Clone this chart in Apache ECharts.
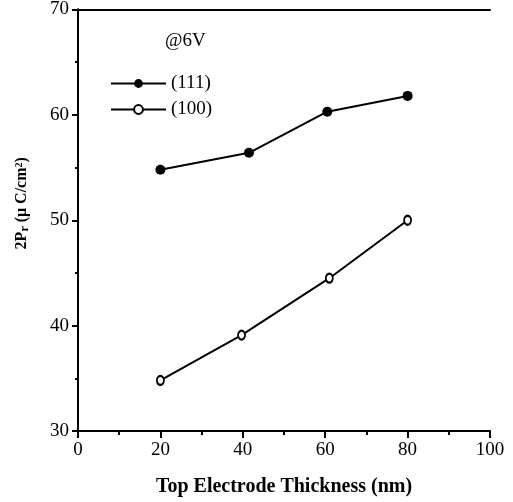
<!DOCTYPE html>
<html>
<head>
<meta charset="utf-8">
<script src="https://cdn.jsdelivr.net/npm/echarts@6/dist/echarts.min.js"></script>
<style>
  html, body { margin: 0; padding: 0; background: #fff; }
  #myChart { width: 513px; height: 502px; }
</style>
</head>
<body>
<div id="myChart"></div>
<script>
// values
const xTicks = [0, 20, 40, 60, 80, 100]
const yTicks = [30, 40, 50, 60, 70]
const s111Name = '(111)'
const s111 = [[20, 54.8], [41.5, 56.4], [60.5, 60.3], [80, 61.8]]
const s100Name = '(100)'
const s100 = [[20, 34.8], [39.7, 39.1], [61, 44.5], [80, 50.0]]

const font = 'Liberation Serif'
const black = '#000'

var myChart = echarts.init(document.getElementById('myChart'))
myChart.setOption({
  animation: false,
  backgroundColor: '#fff',
  textStyle: { fontFamily: font, color: black },
  grid: {
    top: 8,
    left: 78,
    right: 23,
    bottom: 69
  },
  title: {
    text: '@6V',
    left: 160,
    top: 27,
    textStyle: { fontFamily: font, fontSize: 19, fontWeight: 'normal', color: black }
  },
  legend: {
    orient: 'vertical',
    left: 105,
    top: 69,
    itemWidth: 55,
    itemHeight: 11,
    itemGap: 7,
    textStyle: { fontFamily: font, fontSize: 19, color: black },
    data: [s111Name, s100Name]
  },
  xAxis: [{
    type: 'value',
    min: xTicks[0],
    max: xTicks[xTicks.length - 1],
    interval: 20,
    name: 'Top Electrode Thickness (nm)',
    nameLocation: 'middle',
    nameGap: 46,
    nameTextStyle: { fontFamily: font, fontSize: 20, fontWeight: 'bold', color: black },
    axisLine: { lineStyle: { color: black, width: 2 } },
    axisTick: { length: 7, lineStyle: { color: black, width: 2 } },
    minorTick: { show: true, splitNumber: 2, length: 4, lineStyle: { color: black, width: 2 } },
    axisLabel: { fontFamily: font, fontSize: 19, color: black, margin: 10 },
    splitLine: { show: false }
  }, {
    type: 'value',
    position: 'top',
    min: 0,
    max: 100,
    axisLine: { lineStyle: { color: black, width: 2 } },
    axisTick: { show: false },
    axisLabel: { show: false },
    splitLine: { show: false }
  }],
  yAxis: [{
    type: 'value',
    min: yTicks[0],
    max: yTicks[yTicks.length - 1],
    interval: 10,
    name: '2P{s|r} (μ C/cm{p|2})',
    nameLocation: 'middle',
    nameGap: 48,
    nameRotate: 90,
    nameTextStyle: {
      fontFamily: font, fontSize: 16, fontWeight: 'bold', color: black,
      padding: [0, 0, 0, 34],
      rich: {
        s: { fontFamily: font, fontSize: 12, fontWeight: 'bold', padding: [0, 0, -6, 0] },
        p: { fontFamily: font, fontSize: 10, fontWeight: 'bold', padding: [0, 0, 6, 0] }
      }
    },
    axisLine: { lineStyle: { color: black, width: 2 } },
    axisTick: { length: 6, lineStyle: { color: black, width: 2 } },
    minorTick: { show: true, splitNumber: 2, length: 3, lineStyle: { color: black, width: 2 } },
    axisLabel: { fontFamily: font, fontSize: 19, color: black, margin: 9 },
    splitLine: { show: false }
  }, {
    type: 'value',
    position: 'right',
    min: 30,
    max: 70,
    axisLine: { show: true, lineStyle: { color: black, width: 2 } },
    axisTick: { show: false },
    axisLabel: { show: false },
    splitLine: { show: false }
  }],
  series: [
    {
      name: s111Name,
      type: 'line',
      data: s111,
      symbol: 'circle',
      symbolSize: 10,
      itemStyle: { color: black },
      lineStyle: { color: black, width: 2 }
    },
    {
      name: s100Name,
      type: 'line',
      data: s100,
      symbol: 'emptyCircle',
      symbolSize: [7, 9],
      itemStyle: { color: black, borderColor: black, borderWidth: 2 },
      lineStyle: { color: black, width: 2 }
    }
  ]
})
</script>
</body>
</html>
